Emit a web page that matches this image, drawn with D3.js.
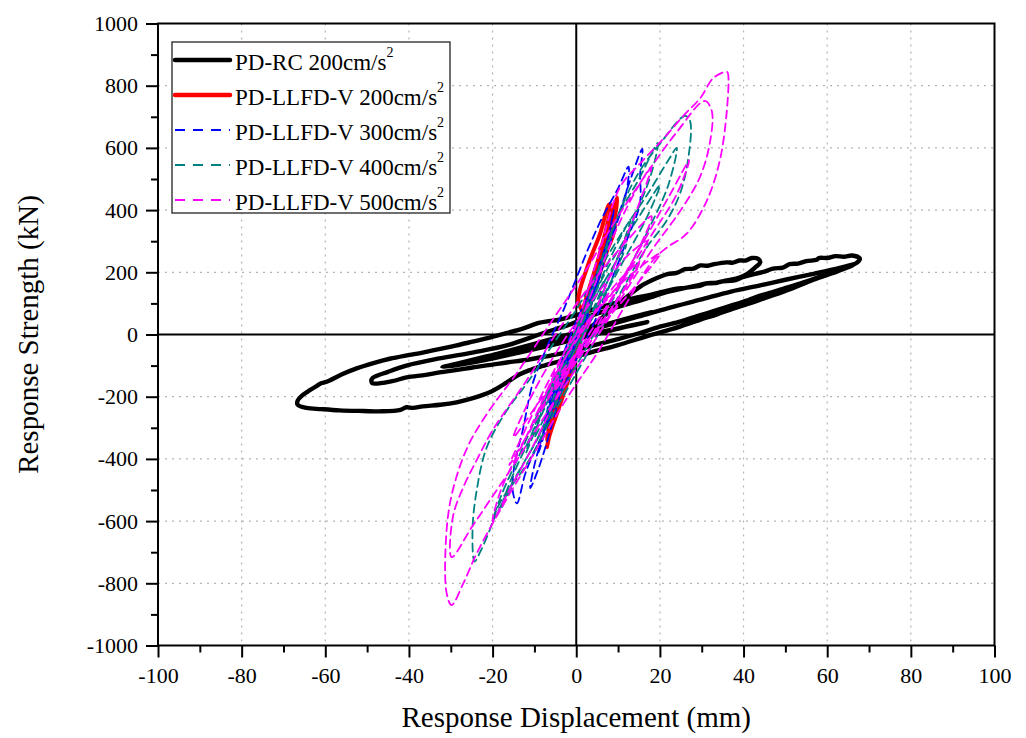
<!DOCTYPE html>
<html>
<head>
<meta charset="utf-8">
<script src="https://cdn.jsdelivr.net/npm/d3@7"></script>
<style>
  body { margin: 0; background: #fff; }
  svg { display: block; font-family: "Liberation Serif", "Times New Roman", serif; }
  .axis path { display: none; }
  .axis line { stroke: #000; stroke-width: 2px; }
  .axis text { font-size: 22px; fill: #000; font-family: "Liberation Serif", "Times New Roman", serif; }
</style>
</head>
<body>
<svg id="chart" width="1026" height="738"></svg>
<script>
"use strict";

var xTicks = [-100, -80, -60, -40, -20, 0, 20, 40, 60, 80, 100];
var yTicks = [-1000, -800, -600, -400, -200, 0, 200, 400, 600, 800, 1000];
var xMinor = [-90, -70, -50, -30, -10, 10, 30, 50, 70, 90];
var yMinor = [-900, -700, -500, -300, -100, 100, 300, 500, 700, 900];

var seriesNames = ["PD-RC 200cm/s", "PD-LLFD-V 200cm/s", "PD-LLFD-V 300cm/s", "PD-LLFD-V 400cm/s", "PD-LLFD-V 500cm/s"];
var seriesColors = ["#000000", "#ff0000", "#0000ff", "#008080", "#ff00ff"];

// displacement (mm), strength (kN)
var pdRc200 = [
    [0, 0], [5, 22], [10, 42], [15, 60], [18, 72], [14, 58], [8, 36], [2, 14], [-4, -8], [-10, -30], [-16, -52], [-20, -66],
    [-15, -54], [-8, -36], [-2, -18], [4, 30], [8, 75], [12, 120], [16, 160], [19, 180], [21.8, 194], [24, 198], [26, 210],
    [28, 212], [29.7, 222], [31.5, 221], [33, 226], [36, 232], [37.5, 231], [39, 238], [40.5, 238], [42, 246], [43.5, 243],
    [44, 232], [43, 218], [41, 196], [39, 183], [36, 174], [33.6, 167], [31, 164], [29, 158], [25.6, 148], [21, 134],
    [17.7, 119], [13.6, 103], [8, 80], [3, 58], [-2, 30], [-8, 4], [-16.6, -35], [-24.8, -58], [-32.7, -77], [-40.6, -100],
    [-45, -120], [-48.7, -140], [-49, -150], [-48.7, -157], [-44, -150], [-40.6, -138], [-36, -130], [-32.7, -122],
    [-28, -113], [-24.8, -106], [-20, -97], [-16.6, -90], [-12, -82], [-8.7, -74], [-4, -62], [0, -50], [5, -32], [10, -15],
    [15, 4], [20, 25], [25, 42], [29.7, 62], [33, 76], [37.5, 95], [41, 110], [44, 125], [47, 136], [49, 145], [53.5, 164],
    [57, 180], [61, 199], [64, 214], [67, 230], [67.8, 244], [66, 254], [64, 250], [62, 252], [60, 246], [58, 246],
    [57.5, 240], [55, 236], [53, 228], [51, 226], [49.4, 215], [47, 212], [45, 202], [43, 196], [40, 185], [37.5, 173],
    [35, 171], [33, 165], [31, 164], [29.7, 157], [26, 150], [24, 147], [21.8, 141], [18, 128], [13.6, 116], [9, 100],
    [4, 80], [0, 62], [-4, 48], [-8.7, 38], [-12.8, 19], [-16.5, 5], [-20.7, -10], [-24.5, -22], [-28.6, -35],
    [-32.5, -46], [-36.7, -58], [-40.5, -67], [-44.6, -78], [-48.5, -92], [-52.5, -109], [-56, -128], [-59.7, -152],
    [-61, -157], [-62, -165], [-63.8, -180], [-64.5, -186], [-65.5, -196], [-66.6, -212], [-66.6, -226], [-64.5, -236],
    [-61, -240], [-56.6, -244], [-51, -246], [-46.3, -247], [-42, -242], [-40.6, -234], [-39, -236], [-36.7, -231],
    [-32.5, -226], [-28.6, -218], [-24.5, -204], [-20.7, -186], [-18.5, -170], [-16.6, -154], [-13.5, -128], [-11, -114],
    [-8.7, -104], [-4, -86], [0, -70], [5, -52], [10, -34], [17, -5], [23, 18], [29.7, 48], [33.5, 64], [37.5, 83],
    [41, 98], [44, 112], [50, 140], [56, 172], [61, 196], [65, 216], [66.5, 226], [63, 214], [57, 196], [50, 176],
    [44, 158], [37, 138], [29.7, 112], [22, 85], [15, 58], [8, 32], [0, 2], [-10, -34], [-20, -66], [-28, -92],
    [-32, -105], [-24, -88], [-15, -62], [-6, -35], [0, -15], [6, 5], [12, 25], [17, 40], [10, 20], [3, 0]
];

var pdLlfdV200 = [
    [0, 0], [3, 120], [6, 250], [8.5, 380], [9.8, 440], [9.5, 400], [8, 300], [5, 170], [2, 40], [-1, -70], [-4, -200],
    [-6, -300], [-7, -362], [-6.5, -330], [-4, -230], [-1, -110], [1, -20], [2.6, 80], [4.5, 200], [7, 330], [8.5, 410],
    [7.5, 320], [4, 160], [1, 30], [-2, -100], [-5, -240], [-5.8, -290], [-3, -180], [0, -40], [2, 50], [0.5, 109],
    [2.6, 215], [5.7, 324], [8, 420], [9.2, 343], [6.3, 237], [3, 100], [0, -30], [-3, -150], [-5, -250], [-3.5, -200],
    [-1, -90], [1, 0], [4, 170], [7, 300], [9, 410], [8, 350], [5, 230], [2, 100], [-1, -30], [-4, -160], [-6.5, -300],
    [-7, -340], [-5, -220], [-2, -90], [1, 40], [3, 140], [1.5, 60], [-1, -50], [-3.5, -170], [-2, -110], [0.5, 10]
];

var pdLlfdV300 = [
    [0, 0], [4, 150], [7, 280], [9, 400], [8, 330], [5, 200], [2, 60], [-2, -100], [-6, -250], [-9, -380], [-8, -320],
    [-4, -170], [0, 0], [5, 200], [10, 380], [13, 500], [15.8, 597], [15.3, 520], [15.2, 420], [12, 300], [8, 160],
    [4, 30], [0, -80], [-4, -200], [-8, -320], [-12, -440], [-14.2, -543], [-15.2, -501], [-14.7, -414], [-12.8, -308],
    [-10.4, -157], [-7, -40], [-3, 80], [0, 180], [3, 280], [6, 370], [10, 470], [12.5, 540], [12, 460], [9, 330],
    [5, 180], [1, 20], [-3, -120], [-7, -280], [-10, -420], [-11, -494], [-9, -430], [-6, -300], [-3, -150], [0, -20],
    [3, 110], [6, 240], [8, 300], [5, 160], [2, 30], [-2, -90], [-6, -230], [-8, -300], [-5, -170], [-1, -20], [4, 150],
    [7, 260], [5, 170], [1, 20], [-3, -110], [-5, -180], [-2, -60], [2, 70], [5, 160], [3, 80], [-1, -40], [-4, -140],
    [-7, -250], [-4.5, -120], [-1, 10], [3, 130], [6, 210], [3.5, 100], [0, -30]
];

var pdLlfdV400 = [
    [0, 0], [5, 200], [10, 380], [15, 500], [19.5, 616], [18, 520], [14, 380], [9, 220], [4, 60], [-2, -120], [-8, -300],
    [-14, -450], [-18, -560], [-16, -480], [-11, -330], [-5, -150], [0, 20], [5, 180], [10.4, 398], [15.2, 526], [20, 613],
    [26, 703], [27.2, 687], [26.7, 559], [24.8, 453], [21.6, 366], [16.8, 279], [10, 120], [4, -30], [-4, -220],
    [-12, -420], [-18.3, -542], [-20.7, -629], [-23, -700], [-24.3, -730], [-24.8, -629], [-23.8, -501], [-21.4, -363],
    [-16.6, -244], [-11.8, -157], [-6, -40], [0, 80], [6, 220], [12, 350], [17, 450], [22, 560], [24, 600], [22, 480],
    [17, 330], [11, 170], [5, 20], [-2, -150], [-9, -330], [-15, -470], [-20, -600], [-18, -520], [-13, -370],
    [-8, -220], [-3, -80], [2, 60], [8, 200], [12, 290], [9, 190], [4, 60], [-1, -70], [-6, -220], [-10, -330],
    [-7, -200], [-2, -50], [4, 120], [9, 270], [13, 370], [10, 250], [5, 100], [0, -40], [-5, -180], [-3, -90], [2, 50],
    [7, 180], [4, 80], [-1, -50], [-8, -250], [-12, -380], [-9, -260], [-4, -110], [1, 30], [7, 200], [16, 400],
    [20, 480], [17, 380], [11, 230], [5, 80], [0, -40]
];

var pdLlfdV500 = [
    [0, 0], [5, 180], [10, 350], [15, 480], [18, 540], [15, 420], [10, 250], [4, 60], [-3, -150], [-10, -350],
    [-16, -500], [-20, -600], [-18, -500], [-12, -330], [-6, -150], [0, 30], [5, 240], [10.4, 472], [15.2, 549],
    [20.8, 629], [25.6, 703], [29.7, 761], [32.8, 825], [36, 845], [36.3, 838], [36, 719], [34.3, 558], [31.2, 430],
    [26.4, 324], [21.6, 279], [18.3, 238], [12, 100], [5, -60], [-2, -200], [-10, -380], [-18, -560], [-23.8, -704],
    [-27, -800], [-29.8, -870], [-31, -831], [-31, -629], [-29.5, -500], [-26, -362], [-21.3, -254], [-14, -120],
    [-6, 40], [2, 200], [10, 380], [18, 540], [24, 650], [30.7, 751], [32.4, 719], [31.9, 613], [29.5, 504], [25, 400],
    [18, 270], [10, 100], [2, -70], [-6, -230], [-14, -400], [-20, -520], [-25, -620], [-29.8, -716], [-29.5, -587],
    [-27, -491], [-23.8, -404], [-20, -308], [-12, -150], [-4, 20], [4, 170], [12, 300], [18, 380], [14, 250], [8, 100],
    [2, -40], [-5, -170], [-12, -330], [-16, -420], [-12, -300], [-7, -160], [-2, -40], [5, 80], [12, 180], [20, 260],
    [15, 170], [8, 60], [0, -60], [-8, -200], [-15, -330], [-10, -180], [-3, -20], [5, 130], [12, 250], [17, 300],
    [12, 160], [5, 20], [-4, -140], [-9, -250], [-5, -130], [2, 20], [10, 170], [15, 230], [9, 90], [2, -50],
    [-6, -190], [-2, -60], [4, 60], [9, 140], [22, 440], [27, 560], [24, 450], [18, 320], [10, 150], [3, 0],
    [-4, -150]
];

var seriesData = [pdRc200, pdLlfdV200, pdLlfdV300, pdLlfdV400, pdLlfdV500];
var seriesWidth = [4.4, 4, 1.8, 1.8, 1.8];
var seriesDash = [null, null, "8,5", "8,5", "8,5"];

var svg = d3.select("#chart");
var plotLeft = 158, plotRight = 994.5, plotTop = 23.5, plotBottom = 645.5;

var x = d3.scaleLinear().domain([-100, 100]).range([plotLeft, plotRight]);
var y = d3.scaleLinear().domain([-1000, 1000]).range([plotBottom, plotTop]);
var plainNum = function (d) { return String(d); };

// grid
var grid = svg.append("g");
grid.selectAll(".gx").data(xTicks.filter(function (d) { return d !== -100 && d !== 100 && d !== 0; }))
    .enter().append("line")
    .attr("x1", function (d) { return x(d); }).attr("x2", function (d) { return x(d); })
    .attr("y1", plotTop).attr("y2", plotBottom)
    .attr("stroke", "#b4b4b4").attr("stroke-width", 1.2).attr("stroke-dasharray", "2,5");
grid.selectAll(".gy").data(yTicks.filter(function (d) { return d !== -1000 && d !== 1000 && d !== 0; }))
    .enter().append("line")
    .attr("x1", plotLeft).attr("x2", plotRight)
    .attr("y1", function (d) { return y(d); }).attr("y2", function (d) { return y(d); })
    .attr("stroke", "#b4b4b4").attr("stroke-width", 1.2).attr("stroke-dasharray", "2,5");

// zero lines
svg.append("line").attr("x1", x(0)).attr("x2", x(0)).attr("y1", plotTop).attr("y2", plotBottom)
    .attr("stroke", "#000").attr("stroke-width", 2);
svg.append("line").attr("x1", plotLeft).attr("x2", plotRight).attr("y1", y(0)).attr("y2", y(0))
    .attr("stroke", "#000").attr("stroke-width", 2);

// curves
var line = d3.line()
    .x(function (d) { return x(d[0]); })
    .y(function (d) { return y(d[1]); })
    .curve(d3.curveCatmullRom.alpha(0.5));

svg.append("g").selectAll("path").data(seriesData).enter().append("path")
    .attr("d", line)
    .attr("fill", "none")
    .attr("stroke", function (d, i) { return seriesColors[i]; })
    .attr("stroke-width", function (d, i) { return seriesWidth[i]; })
    .attr("stroke-dasharray", function (d, i) { return seriesDash[i]; })
    .attr("stroke-linejoin", "round")
    .attr("stroke-linecap", "round");

// frame
svg.append("rect").attr("x", plotLeft).attr("y", plotTop)
    .attr("width", plotRight - plotLeft).attr("height", plotBottom - plotTop)
    .attr("fill", "none").attr("stroke", "#000").attr("stroke-width", 2);

// axes
svg.append("g").attr("class", "axis")
    .attr("transform", "translate(0," + plotBottom + ")")
    .call(d3.axisBottom(x).tickValues(xTicks).tickSize(12).tickPadding(10).tickFormat(plainNum));
svg.append("g").attr("class", "axis")
    .attr("transform", "translate(0," + plotBottom + ")")
    .call(d3.axisBottom(x).tickValues(xMinor).tickSize(7).tickFormat(""));
svg.append("g").attr("class", "axis")
    .attr("transform", "translate(" + plotLeft + ",0)")
    .call(d3.axisLeft(y).tickValues(yTicks).tickSize(12).tickPadding(8).tickFormat(plainNum));
svg.append("g").attr("class", "axis")
    .attr("transform", "translate(" + plotLeft + ",0)")
    .call(d3.axisLeft(y).tickValues(yMinor).tickSize(7).tickFormat(""));

// axis titles
svg.append("text").attr("x", (plotLeft + plotRight) / 2).attr("y", 727)
    .attr("text-anchor", "middle").attr("font-size", 29).text("Response Displacement (mm)");
svg.append("text").attr("transform", "translate(38," + ((plotTop + plotBottom) / 2) + ") rotate(-90)")
    .attr("text-anchor", "middle").attr("font-size", 29).text("Response Strength (kN)");

// legend
var lg = svg.append("g").attr("transform", "translate(172,42)");
lg.append("rect").attr("width", 278).attr("height", 171)
    .attr("fill", "#fff").attr("stroke", "#222").attr("stroke-width", 1.3);
var rows = lg.selectAll(".row").data(seriesNames).enter().append("g")
    .attr("transform", function (d, i) { return "translate(0," + (18 + i * 35) + ")"; });
rows.append("line").attr("x1", 3).attr("x2", 58).attr("y1", 0).attr("y2", 0)
    .attr("stroke", function (d, i) { return seriesColors[i]; })
    .attr("stroke-width", function (d, i) { return i < 2 ? 4.5 : 1.8; })
    .attr("stroke-dasharray", function (d, i) { return i < 2 ? null : "10,8"; })
    .attr("stroke-linecap", function (d, i) { return i < 2 ? "round" : "butt"; });
var txt = rows.append("text").attr("x", 63).attr("y", 9.5).attr("font-size", 23);
txt.append("tspan").text(function (d) { return d; });
txt.append("tspan").attr("dy", -12.5).attr("font-size", 14).text("2");
</script>
</body>
</html>
